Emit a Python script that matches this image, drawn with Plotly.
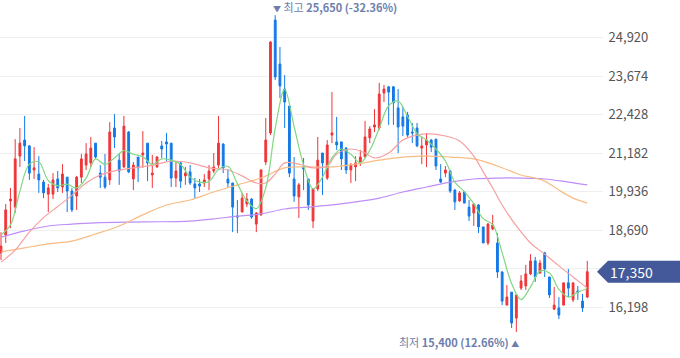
import plotly.graph_objects as go

# ---------------- data ----------------
open_ = [17960, 18540, 19640, 19440, 21090, 21610, 21420, 20640, 20510, 20250,
         19860, 19860, 20350, 20090, 20410, 19960, 19800, 20410, 20800, 20870,
         21510, 20540, 20410, 20320, 22000, 20960, 20740, 21870, 20350, 21060,
         21130, 21510, 20480, 20740, 21420, 21550, 21510, 20380, 20870, 20450,
         20580, 20190, 20190, 20220, 20350, 20610, 20800, 21480, 20350, 20220,
         19150, 19280, 19540, 19700, 18890, 19190, 20900, 21840, 25490, 24070,
         23260, 22710, 20350, 19770, 20740, 20350, 18990, 20030, 21190, 20380,
         21770, 21550, 21550, 21350, 20640, 20740, 20900, 21060, 21680, 22030,
         22000, 23130, 23330, 23330, 22650, 22360, 22420, 21870, 22000, 21350,
         21450, 21610, 21640, 20350, 20540, 20610, 19990, 19640, 19930, 19440,
         19250, 19510, 18800, 18280, 18730, 18280, 17340, 16270, 16690, 15850,
         16820, 16890, 17280, 17700, 17310, 17960, 17180, 16140, 16180, 16270,
         16990, 16440, 16730, 16400, 16530]
high_ = [18630, 19540, 20060, 21640, 22000, 22390, 21450, 21380, 21090, 20320,
         20190, 20540, 20610, 20830, 20410, 20060, 20450, 21160, 21510, 21710,
         21510, 20800, 21160, 22190, 22450, 21160, 22390, 21900, 20900, 21060,
         21900, 21510, 21130, 21090, 21580, 21840, 21510, 20930, 20900, 20740,
         20800, 20380, 20350, 20510, 20800, 21190, 22390, 21510, 20670, 20220,
         19670, 19900, 19900, 19730, 19280, 20670, 22320, 24810, 25650, 24620,
         23710, 22710, 21060, 20220, 21030, 20350, 20030, 21710, 21190, 21610,
         23160, 22360, 21550, 21380, 20870, 21090, 21290, 22230, 22060, 22610,
         23460, 23390, 23360, 23360, 23260, 22680, 22520, 22160, 22160, 21710,
         21840, 21640, 21640, 20830, 20770, 20640, 20030, 19960, 19960, 19670,
         19540, 19540, 18800, 18930, 19190, 18600, 17370, 16920, 16690, 16600,
         17240, 17570, 17920, 17830, 17730, 17990, 17180, 16860, 16530, 16990,
         17440, 16990, 16890, 16630, 17700]
low_ = [17730, 18280, 18760, 19250, 20740, 20930, 20320, 20350, 19900, 19730,
        19280, 19700, 19930, 19900, 19280, 19280, 19350, 20220, 20640, 20740,
        21000, 20060, 20030, 20160, 21350, 20160, 20710, 20540, 19990, 20250,
        20710, 20280, 20060, 20710, 21030, 20930, 20090, 20090, 20060, 20160,
        20160, 19730, 19930, 20090, 19990, 20540, 20710, 20540, 20060, 18630,
        18600, 19280, 19440, 19060, 18630, 19150, 20800, 21770, 23550, 22970,
        22000, 20410, 19610, 19090, 19990, 19350, 18760, 19960, 19830, 20320,
        21510, 21290, 20640, 20510, 20220, 20280, 20770, 21060, 21510, 21870,
        21930, 22840, 22100, 22100, 21190, 21740, 21710, 21510, 21380, 20830,
        20740, 21220, 20640, 20220, 20410, 19900, 19350, 19610, 19570, 18990,
        18830, 18600, 18280, 18210, 18700, 17150, 16270, 16270, 15530, 15400,
        16760, 16760, 17240, 17020, 17280, 17180, 16500, 16110, 15820, 16270,
        16530, 16370, 16440, 16050, 16500]
close_ = [18180, 19350, 19700, 21000, 21510, 21420, 20540, 20710, 20320, 19900,
          20060, 20320, 20060, 20510, 19960, 19350, 20410, 21000, 21160, 21350,
          21060, 20410, 20090, 21870, 21710, 20610, 22060, 20580, 20800, 20710,
          21190, 20870, 20540, 21060, 21320, 21480, 20380, 20610, 20280, 20540,
          20220, 20060, 20120, 20320, 20610, 20740, 21510, 20710, 20220, 19440,
          19120, 19730, 19700, 19120, 19250, 20640, 21610, 24780, 23650, 23360,
          22840, 20540, 19800, 20160, 20670, 19510, 20030, 20960, 20870, 21450,
          21840, 21450, 21000, 20640, 20800, 20870, 21060, 21710, 21970, 22100,
          23100, 23260, 23160, 22810, 22030, 22060, 21770, 21840, 21420, 21420,
          21610, 21380, 20770, 20250, 20640, 19960, 19610, 19900, 19570, 19150,
          19540, 18800, 18280, 18890, 18860, 17340, 16400, 16530, 15690, 16600,
          17050, 17280, 17700, 17180, 17630, 17440, 16600, 16270, 15950, 16990,
          16820, 16990, 16690, 16180, 17350]

# moving-average lines at sample candles
ma5_idx = list(range(0, 125, 2))
ma5 = [18540, 18860, 19950, 20830, 20900, 20300, 20130, 20180, 20060, 20380,
       21000, 20820, 21030, 21270, 21150, 21070, 20820, 21000, 20960, 20820,
       20410, 20250, 20270, 20660, 20760, 20200, 19640, 19390, 20060, 21990,
       23250, 22040, 20800, 20030, 20410, 21030, 21320, 21150, 20870, 21280,
       21990, 22720, 22870, 22370, 21820, 21610, 21320, 20930, 20250, 19940,
       19550, 19070, 18870, 17960, 16970, 16450, 16860, 17370, 17310, 16780,
       16530, 16690, 16800]
ma20_idx = [0, 3, 6, 9, 12, 15, 18, 21, 24, 28, 32, 36, 40, 44, 48, 51, 54, 56,
            58, 60, 63, 66, 69, 71, 74, 77, 79, 82, 85, 88, 91, 94, 97, 100, 102,
            104, 106, 109, 112, 115, 118, 121, 124]
ma20 = [17660, 18050, 18630, 19100, 19460, 19820, 20220, 20480, 20610, 20710,
        20790, 20930, 20870, 20710, 20640, 20450, 20220, 20220, 20510, 20870,
        20830, 20710, 20770, 21160, 21320, 21190, 21030, 21190, 21610, 21770,
        21810, 21740, 21580, 21090, 20580, 20060, 19510, 18830, 18280, 17920,
        17540, 17180, 16820]
ma60_idx = [0, 5, 10, 15, 20, 25, 30, 35, 40, 45, 50, 55, 60, 65, 70, 75, 80,
            85, 90, 95, 100, 105, 110, 113, 115, 118, 121, 124]
ma60 = [17990, 18120, 18250, 18340, 18570, 18830, 19190, 19510, 19670, 19930,
        20160, 20380, 20710, 20740, 20740, 20830, 20960, 21060, 21090, 21060,
        21000, 20770, 20480, 20380, 20280, 19990, 19730, 19570]
ma120_idx = [0, 5, 10, 15, 20, 30, 40, 45, 50, 55, 60, 65, 70, 75, 80, 85, 90,
             95, 100, 105, 110, 115, 120, 124]
ma120 = [18470, 18670, 18830, 18890, 18930, 18960, 18990, 19060, 19150, 19220,
         19380, 19440, 19510, 19610, 19730, 19930, 20090, 20250, 20350, 20380,
         20380, 20350, 20250, 20160]

y_ticks = [16198, 17444, 18690, 19936, 21182, 22428, 23674, 24920]

# ---------------- styling ----------------
W, H = 680, 358
MR = 77
PW = W - MR
Y_RANGE = [14559, 26140]
RED = "#EF3539"
BLUE = "#1479E6"
FONT = "Noto Sans CJK KR, Noto Sans, sans-serif"

x = list(range(len(close_)))

fig = go.Figure()
fig.add_trace(go.Candlestick(
    x=x, open=open_, high=high_, low=low_, close=close_,
    increasing=dict(line=dict(color=RED, width=1), fillcolor=RED),
    decreasing=dict(line=dict(color=BLUE, width=1), fillcolor=BLUE),
    whiskerwidth=0, hoverinfo="skip", showlegend=False))

for idx, vals, col in [(ma120_idx, ma120, "#BF8EF7"),
                       (ma60_idx, ma60, "#F8BC84"),
                       (ma20_idx, ma20, "#F6A0A0"),
                       (ma5_idx, ma5, "#82D882")]:
    fig.add_trace(go.Scatter(x=idx, y=vals, mode="lines",
                             line=dict(color=col, width=1.2, shape="spline"),
                             hoverinfo="skip", showlegend=False))

# high / low markers
hi_i = high_.index(max(high_))
lo_i = low_.index(min(low_))
last = close_[-1]
hi_pct = (last - high_[hi_i]) / high_[hi_i] * 100
lo_pct = (last - low_[lo_i]) / low_[lo_i] * 100
ANN_COL = "#6D7EAE"
fig.add_annotation(x=hi_i, y=high_[hi_i], xref="x", yref="y", xanchor="left",
                   yanchor="bottom", xshift=-4, yshift=-2, showarrow=False,
                   text=f"<span style='font-size:8px'>▼</span> 최고 <b>{high_[hi_i]:,} ({hi_pct:.2f}%)</b>",
                   font=dict(family=FONT, size=11, color=ANN_COL))
fig.add_annotation(x=lo_i, y=low_[lo_i], xref="x", yref="y", xanchor="right",
                   yanchor="top", xshift=5, yshift=0, showarrow=False,
                   text=f"최저 <b>{low_[lo_i]:,} ({lo_pct:.2f}%)</b> <span style='font-size:8px'>▲</span>",
                   font=dict(family=FONT, size=11, color=ANN_COL))

# last price tag
yp = (last - Y_RANGE[0]) / (Y_RANGE[1] - Y_RANGE[0])
half = 11 / H
tip = 1 - 6 / PW
bl = 1 + 5 / PW
right = 1 + MR / PW
fig.add_shape(type="path", xref="paper", yref="paper",
              path=f"M {tip},{yp} L {bl},{yp + half} L {right},{yp + half} "
                   f"L {right},{yp - half} L {bl},{yp - half} Z",
              fillcolor="#43599A", line=dict(width=0), layer="above")
fig.add_annotation(x=bl, y=yp, xref="paper", yref="paper", xanchor="left",
                   yanchor="middle", xshift=0, showarrow=False,
                   text=f"{last:,}", font=dict(family=FONT, size=14, color="white"))

fig.update_layout(
    width=W, height=H, margin=dict(l=0, r=MR, t=0, b=0),
    paper_bgcolor="white", plot_bgcolor="white", showlegend=False,
    boxgap=0.45,
    xaxis=dict(range=[-0.21, 127.33], visible=False,
               rangeslider=dict(visible=False), showgrid=False),
    yaxis=dict(side="right", range=Y_RANGE, tickvals=y_ticks,
               ticktext=["" if v == 17444 else f"{v:,}" for v in y_ticks],
               showgrid=True, gridcolor="#EFEFEF", gridwidth=1,
               zeroline=False, showline=False, ticks="outside", ticklen=2,
               tickcolor="rgba(0,0,0,0)",
               tickfont=dict(family=FONT, size=13, color="#555555")),
)

fig.write_html("out.html", config={"displayModeBar": False},
               post_script="document.body.style.margin='0';document.body.style.overflow='hidden';")
